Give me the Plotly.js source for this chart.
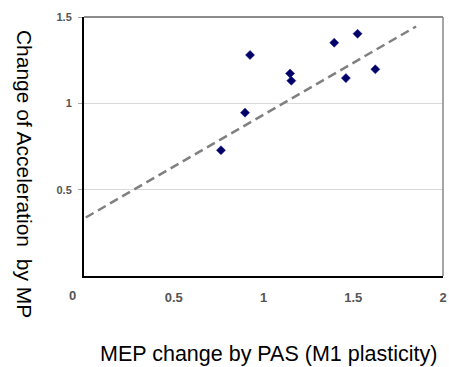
<!DOCTYPE html>
<html>
<head>
<meta charset="utf-8">
<script src="https://cdn.plot.ly/plotly-3.0.1.min.js"></script>
<style>html,body{margin:0;padding:0;background:#fff;}#chart{width:449px;height:367px;}</style>
</head>
<body>
<div id="chart"></div>
<script>
// Data
var mepChange = [0.763, 0.897, 0.925, 1.148, 1.155, 1.394, 1.459, 1.524, 1.623];
var accelChange = [0.728, 0.946, 1.28, 1.173, 1.131, 1.351, 1.146, 1.403, 1.197];
var trendX = [0.01, 1.85];
var trendY = [0.339, 1.445];
var xTicks = [0, 0.5, 1, 1.5, 2];
var xTickText = ["0", "0.5", "1", "1.5", "2"];
var yTicks = [0.5, 1, 1.5];
var yTickText = ["0.5", "1", "1.5"];

var traces = [
  {
    x: trendX, y: trendY, mode: 'lines', type: 'scatter',
    line: {color: '#808080', width: 2.5, dash: '9px,5px'},
    hoverinfo: 'skip', showlegend: false
  },
  {
    x: mepChange, y: accelChange, mode: 'markers', type: 'scatter',
    marker: {symbol: 'diamond', size: 7, color: '#000066', line: {color: '#1a1a99', width: 0.5}},
    showlegend: false
  }
];

// The "0" label sits left of the axis origin in the reference; draw it separately
var tickFontX = {size: 13, color: '#555', family: 'Liberation Sans, Arial, sans-serif', weight: 'bold'};
var zeroLabel = {
  text: xTickText[0], xref: 'paper', yref: 'paper', x: -0.032, y: 0,
  yshift: -19, xanchor: 'center', yanchor: 'middle', showarrow: false, font: tickFontX
};

var layout = {
  width: 449, height: 367,
  margin: {l: 84, r: 6, t: 17, b: 91},
  paper_bgcolor: '#fff', plot_bgcolor: '#fff',
  font: {family: 'Liberation Sans, Arial, sans-serif', color: '#333'},
  xaxis: {
    range: [0, 2], tickvals: xTicks.slice(1), ticktext: xTickText.slice(1),
    showgrid: false, zeroline: false,
    showline: true, linecolor: '#000', linewidth: 2,
    ticks: '', ticklabelstandoff: 8,
    tickfont: tickFontX
  },
  yaxis: {
    range: [0, 1.5], tickvals: yTicks, ticktext: yTickText,
    showgrid: true, gridcolor: '#d9d9d9', gridwidth: 1.5, zeroline: false,
    showline: true, linecolor: '#000', linewidth: 2,
    ticks: 'outside', ticklen: 4, tickcolor: '#aaa',
    ticklabelstandoff: 4,
    tickfont: {size: 11, color: '#555', weight: 'bold'}
  },
  shapes: [
    {type: 'line', xref: 'paper', yref: 'paper', x0: 0, x1: 1, y0: 1, y1: 1, line: {color: '#666', width: 1.5}},
    {type: 'line', xref: 'paper', yref: 'paper', x0: 1, x1: 1, y0: 0, y1: 1, line: {color: '#888', width: 1.5}}
  ],
  annotations: [
    zeroLabel,
    {text: 'MEP change by PAS (M1 plasticity)', xref: 'paper', yref: 'paper',
     x: 0.514, y: -0.301, xanchor: 'center', yanchor: 'middle', showarrow: false,
     font: {size: 21.5, color: '#000'}},
    {text: 'Change of Acceleration  by MP', xref: 'paper', yref: 'paper',
     x: -0.167, y: 0.394, xanchor: 'center', yanchor: 'middle', showarrow: false,
     textangle: 90, font: {size: 21, color: '#000'}}
  ]
};

Plotly.newPlot('chart', traces, layout, {displayModeBar: false, staticPlot: true});
</script>
</body>
</html>
